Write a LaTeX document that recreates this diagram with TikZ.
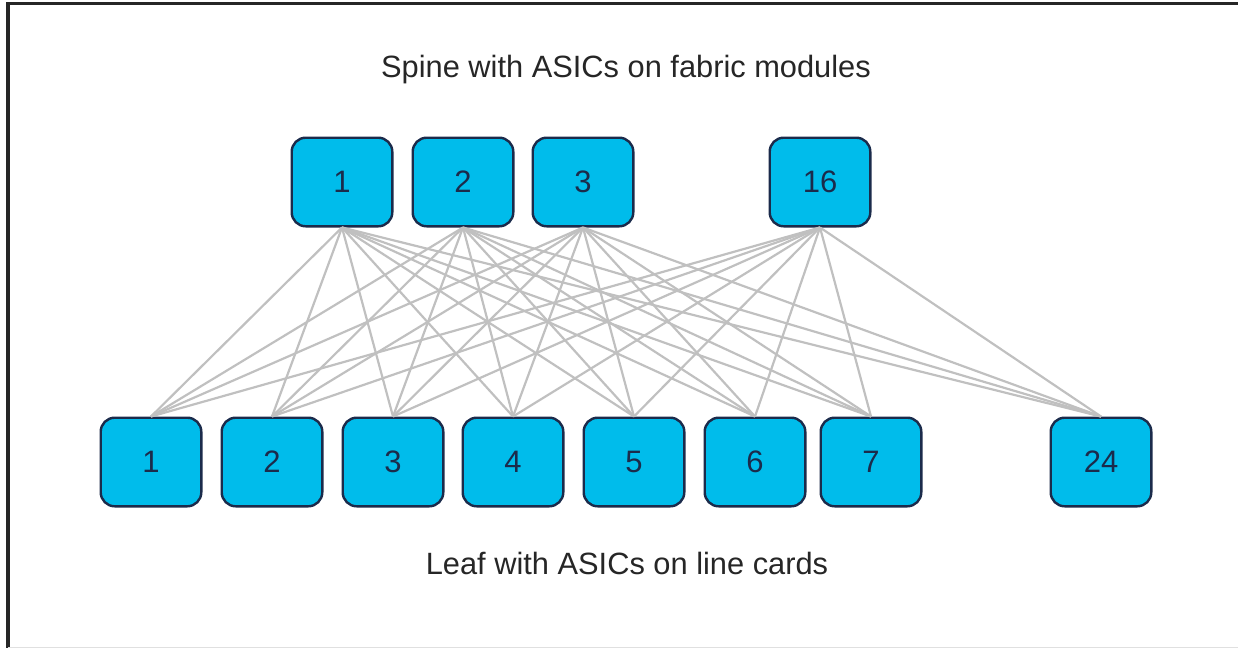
\documentclass[tikz,border=0pt]{standalone}
\usepackage{fontspec}
\setmainfont{Liberation Sans}
\definecolor{asicblue}{HTML}{00BCEB}
\definecolor{asicedge}{HTML}{1B2B4B}
\definecolor{meshgray}{HTML}{C0C0C0}
\begin{document}
\begin{tikzpicture}[x=0.5pt,y=-0.5pt,
    asic/.style={draw=asicedge, line width=1.2pt, fill=asicblue, rounded corners=7pt,
      minimum width=50.3pt, minimum height=44.3pt, inner sep=0pt, text=asicedge,
      font=\fontsize{15.5}{18}\selectfont},
    link/.style={draw=meshgray, line width=1.1pt},
    title/.style={font=\fontsize{15.4}{18}\selectfont, text=black!85}]
    \useasboundingbox (0,0) rectangle (1238,648);
    % frame
    \draw[line width=1.7pt, black!85] (8,648) -- (8,3.5) -- (1238,3.5);
    \draw[line width=0.5pt, black!12] (8,647) -- (1238,647);
    % titles
    \node[title] (spinetitle) at (626,70) {Spine with ASICs on fabric modules};
    \node[title] (leaftitle) at (627,563) {Leaf with ASICs on line cards};
    % spine ASICs
    \node[asic] (s1) at (342,182) {1};
    \node[asic] (s2) at (463,182) {2};
    \node[asic] (s3) at (583,182) {3};
    \node[asic] (s16) at (820,182) {16};
    % leaf ASICs
    \node[asic] (l1) at (151,462) {1};
    \node[asic] (l2) at (272,462) {2};
    \node[asic] (l3) at (393,462) {3};
    \node[asic] (l4) at (513,462) {4};
    \node[asic] (l5) at (634,462) {5};
    \node[asic] (l6) at (755,462) {6};
    \node[asic] (l7) at (871,462) {7};
    \node[asic] (l24) at (1101,462) {24};
    % full mesh
    \foreach \s in {1,2,3,16}
        \foreach \l in {1,...,7,24}
            \draw[link] (s\s.south) -- (l\l.north);
\end{tikzpicture}
\end{document}
